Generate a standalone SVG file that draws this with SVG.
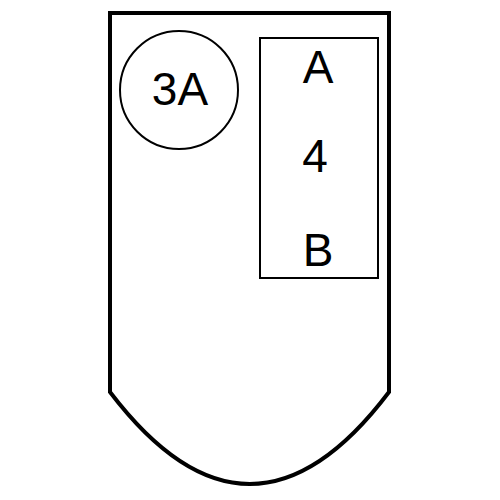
<svg xmlns="http://www.w3.org/2000/svg" width="500" height="500" viewBox="0 0 500 500">
<style>
.t{font-family:"Liberation Sans",Arial,sans-serif;font-size:46px;fill:#000;text-anchor:middle}
.s{fill:#fff;stroke:#000}
</style>
<rect width="500" height="500" fill="#fff"/>
<g id="outer"><path class="s" stroke-width="4" d="M110,13 H389 V392 Q250,576 110,392 Z"/></g>
<g id="n3A"><circle class="s" stroke-width="2" cx="179" cy="90" r="59"/><text class="t" x="180" y="105">3A</text></g>
<g id="n4"><rect class="s" stroke-width="2" x="260" y="38" width="118" height="240"/>
<text class="t" x="318" y="83">A</text>
<text class="t" x="315" y="172">4</text>
<text class="t" x="318" y="266">B</text></g>
<g id="connectors"/>
</svg>
